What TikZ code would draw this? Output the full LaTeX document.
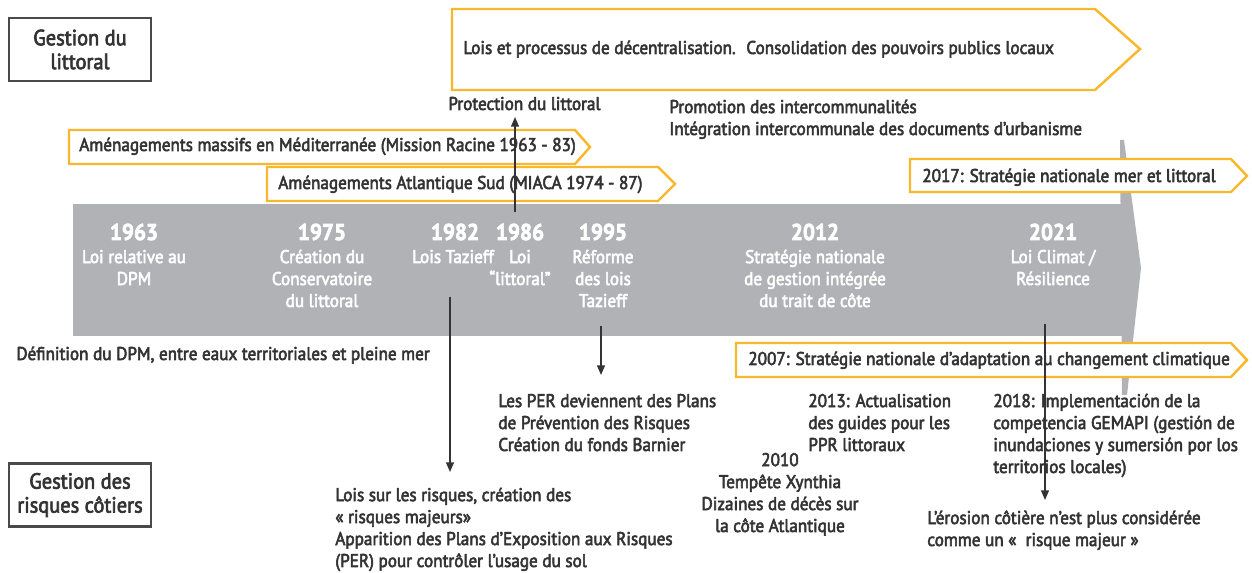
\documentclass[tikz,border=0pt]{standalone}
\usepackage{fontspec}
\setmainfont{PT Sans}[FakeStretch=0.93, FakeBold=3]
\usetikzlibrary{arrows.meta}

\definecolor{bargray}{HTML}{B1B2B5}
\definecolor{amber}{HTML}{F9B82B}
\definecolor{ink}{HTML}{333333}
\definecolor{frame}{HTML}{4A4A4A}

\newcommand\bodyfont{\fontsize{10.5}{12.5}\selectfont}
\newcommand\yearfont{\fontsize{13}{15}\selectfont\bfseries}
\newcommand\titlefont{\fontsize{12.5}{13.6}\selectfont}

% multi-line nodes are placed by the baseline of their last line
\tikzset{
  note/.style={text=ink, inner sep=0pt, font=\bodyfont, align=left, anchor=base west},
  bartext/.style={text=white, inner sep=0pt, font=\bodyfont, align=center, anchor=base},
  yeartext/.style={text=white, inner sep=0pt, font=\yearfont, anchor=base},
  period/.style={draw=amber, line width=1.4pt, fill=white, line join=miter},
  realm/.style={draw=frame, line width=1.4pt, align=center, font=\titlefont, text=ink,
    minimum width=2.84cm, minimum height=1.26cm},
  lead/.style={draw=ink, line width=0.85pt, -{Triangle[width=4.5pt,length=5.5pt]}}
}

\begin{document}
\begin{tikzpicture}[x=0.02cm, y=-0.02cm]
\useasboundingbox (0,0) rectangle (1252,573);

% the time bar
\fill[bargray] (73,204) rectangle (1122,336);
\fill[bargray] (1120,140) -- (1124,140) -- (1141,268) -- (1127,395) -- (1122,395) -- cycle;

% periods
\draw[period] (452,9) -- (1095,9) -- (1140,49) -- (1095,90) -- (452,90) -- cycle;
\draw[period] (69,130) -- (575,130) -- (590,147) -- (575,164) -- (69,164) -- cycle;
\draw[period] (267,167) -- (658,167) -- (675,184) -- (658,201) -- (267,201) -- cycle;
\draw[period] (910,159) -- (1231,159) -- (1247,176) -- (1231,192) -- (910,192) -- cycle;
\draw[period] (736,343) -- (1231,343) -- (1247,360) -- (1231,377) -- (736,377) -- cycle;

\node[note] (decentral) at (463,54) {Lois et processus de d\'ecentralisation.~ Consolidation des pouvoirs publics locaux};
\node[note] (racine) at (79,151) {Am\'enagements massifs en M\'editerran\'ee (Mission Racine 1963 - 83)};
\node[note] (miaca) at (278,189) {Am\'enagements Atlantique Sud (MIACA 1974 - 87)};
\node[note] (snml) at (922,182) {2017: Strat\'egie nationale mer et littoral};
\node[note] (snacc) at (748,365) {2007: Strat\'egie nationale d’adaptation au changement climatique};

% the two realms
\node[realm] (littoral) at (80,49.5) {Gestion du\\littoral};
\node[realm] (risques) at (80,495) {Gestion des\\risques c\^otiers};

% years on the bar
\node[yeartext] (y63) at (134,240) {1963};
\node[bartext] (d63) at (134,285) {Loi relative au\\DPM};
\node[yeartext] (y75) at (322,240) {1975};
\node[bartext] (d75) at (322,307) {Cr\'eation du\\Conservatoire\\du littoral};
\node[yeartext] (y82) at (455,240) {1982};
\node[bartext] (d82) at (453,263) {Lois Tazieff};
\node[yeartext] (y86) at (520,240) {1986};
\node[bartext] (d86) at (520,285) {Loi\\“littoral”};
\node[yeartext] (y95) at (603,240) {1995};
\node[bartext] (d95) at (603,307) {R\'eforme\\des lois\\Tazieff};
\node[yeartext] (y12) at (815,240) {2012};
\node[bartext] (d12) at (815,307) {Strat\'egie nationale\\de gestion int\'egr\'ee\\du trait de c\^ote};
\node[yeartext] (y21) at (1053,240) {2021};
\node[bartext] (d21) at (1053,285) {Loi Climat /\\R\'esilience};

% notes above
\node[note] (protect) at (448,110) {Protection du littoral};
\node[note] (interco) at (669,135) {Promotion des intercommunalit\'es\\Int\'egration intercommunale des documents d’urbanisme};

% notes below
\node[note] (dpm) at (16,360) {D\'efinition du DPM, entre eaux territoriales et pleine mer};
\node[note] (per) at (498,451) {Les PER deviennent des Plans\\de Pr\'evention des Risques\\Cr\'eation du fonds Barnier};
\node[note] (majeurs) at (335,567) {Lois sur les risques, cr\'eation des\\« risques majeurs»\\Apparition des Plans d’Exposition aux Risques\\(PER) pour contr\^oler l’usage du sol};
\node[note, align=center, anchor=base] (xynthia) at (780,532) {2010\\Temp\^ete Xynthia\\Dizaines de d\'ec\`es sur\\la c\^ote Atlantique};
\node[note] (ppr) at (808,451) {2013: Actualisation\\des guides pour les\\PPR littoraux};
\node[note] (gemapi) at (993,473) {2018: Implementaci\'on de la\\competencia GEMAPI (gesti\'on de\\inundaciones y sumersi\'on por los\\territorios locales)};
\node[note] (erosion) at (927,546) {L’\'erosion c\^oti\`ere n’est plus consid\'er\'ee\\comme un «~ risque majeur~»};

% leads
\coordinate (s86) at (515,212);
\coordinate (e86) at (515,117);
\coordinate (s82) at (450,297);
\coordinate (e82) at (450,472);
\coordinate (s95) at (601,326);
\coordinate (e95) at (601,375);
\coordinate (s21) at (1045,324);
\coordinate (e21) at (1045,500);
\draw[lead] (s86) -- (e86);
\draw[lead] (s82) -- (e82);
\draw[lead] (s95) -- (e95);
\draw[lead] (s21) -- (e21);

\end{tikzpicture}
\end{document}
